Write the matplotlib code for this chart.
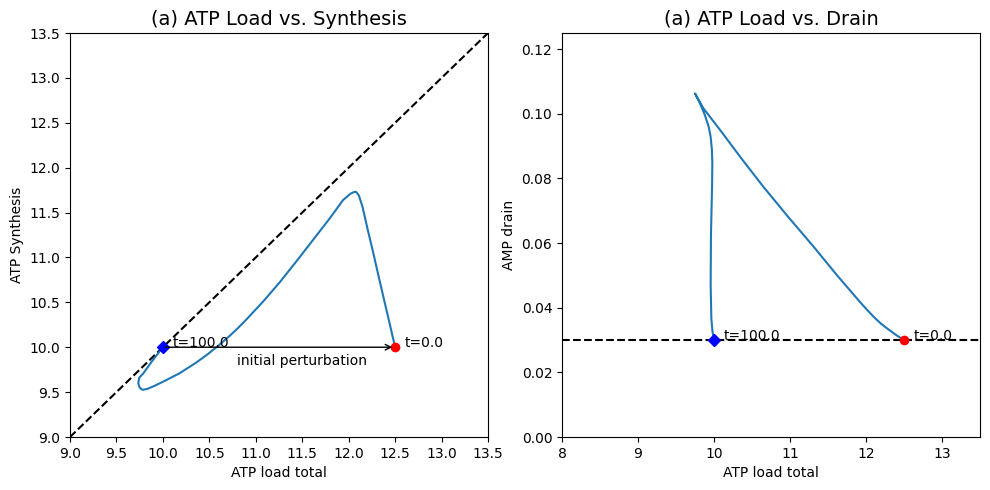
import matplotlib
matplotlib.use("Agg")
import matplotlib.pyplot as plt

# Trajectory: ATP load total vs ATP synthesis (left)
load_syn = [12.50, 12.433, 12.374, 12.32, 12.265, 12.205, 12.15, 12.11, 12.08, 12.06, 12.02, 11.94,
            11.80, 11.62, 11.44, 11.26, 11.08, 10.90, 10.81, 10.72, 10.60, 10.48, 10.36, 10.18, 10.00,
            9.90, 9.83, 9.78, 9.75, 9.735, 9.745, 9.79, 9.88, 9.94, 10.00]
synthesis = [10.00, 10.30, 10.56, 10.80, 11.05, 11.31, 11.56, 11.69, 11.73, 11.73, 11.71, 11.64,
             11.44, 11.20, 10.96, 10.726, 10.51, 10.31, 10.215, 10.128, 10.02, 9.92, 9.83, 9.71, 9.615,
             9.565, 9.535, 9.525, 9.55, 9.60, 9.66, 9.71, 9.84, 9.92, 10.00]

# Trajectory: ATP load total vs AMP drain (right)
load_drain = [12.50, 12.40, 12.30, 12.20, 12.10, 12.00, 11.92, 11.62, 11.31, 10.98, 10.65, 10.36,
              10.08, 9.86, 9.75, 9.82, 9.88, 9.93, 9.955, 9.972, 9.978, 9.975, 9.96, 9.956, 9.965,
              9.98, 10.00]
drain = [0.030, 0.0315, 0.0332, 0.0350, 0.0372, 0.0397, 0.0418, 0.0500, 0.0589, 0.0680, 0.0774, 0.0862,
         0.0950, 0.1017, 0.1063, 0.1030, 0.0996, 0.0960, 0.0930, 0.0890, 0.0850, 0.0780, 0.0625,
         0.0470, 0.0367, 0.0326, 0.030]

start_load, start_syn, start_drain = 12.5, 10.0, 0.03
end_load, end_syn, end_drain = 10.0, 10.0, 0.03

x_ticks_left = [9.0, 9.5, 10.0, 10.5, 11.0, 11.5, 12.0, 12.5, 13.0, 13.5]
y_ticks_left = [9.0, 9.5, 10.0, 10.5, 11.0, 11.5, 12.0, 12.5, 13.0, 13.5]
x_ticks_right = [8, 9, 10, 11, 12, 13]
y_ticks_right = [0.00, 0.02, 0.04, 0.06, 0.08, 0.10, 0.12]

W, H = 990, 490
fig = plt.figure(figsize=(W / 100, H / 100), dpi=100)
ax1 = fig.add_axes([70 / W, (H - 437) / H, 418 / W, 404 / H])
ax2 = fig.add_axes([562 / W, (H - 437) / H, 418 / W, 404 / H])

# Left panel
ax1.plot([9, 13.5], [9, 13.5], 'k--')
ax1.plot(load_syn, synthesis, color='#1f77b4')
ax1.plot(start_load, start_syn, 'o', color='red')
ax1.plot(end_load, end_syn, 'D', color='blue')
ax1.text(start_load + 0.1, start_syn, 't=0.0')
ax1.text(end_load + 0.1, end_syn, 't=100.0')
ax1.annotate('', xy=(start_load, start_syn), xytext=(end_load, end_syn),
             arrowprops=dict(arrowstyle='->', color='black'))
ax1.text(10.8, 9.8, 'initial perturbation')
ax1.set_xlim(9, 13.5)
ax1.set_ylim(9, 13.5)
ax1.set_xticks(x_ticks_left)
ax1.set_yticks(y_ticks_left)
ax1.set_xlabel('ATP load total')
ax1.set_ylabel('ATP Synthesis')
ax1.set_title('(a) ATP Load vs. Synthesis', fontsize=14)

# Right panel
ax2.axhline(0.03, color='k', linestyle='--')
ax2.plot(load_drain, drain, color='#1f77b4')
ax2.plot(start_load, start_drain, 'o', color='red')
ax2.plot(end_load, end_drain, 'D', color='blue')
ax2.text(start_load + 0.13, start_drain, 't=0.0')
ax2.text(end_load + 0.13, end_drain, 't=100.0')
ax2.set_xlim(8, 13.5)
ax2.set_ylim(0, 0.125)
ax2.set_xticks(x_ticks_right)
ax2.set_yticks(y_ticks_right)
ax2.set_xlabel('ATP load total')
ax2.set_ylabel('AMP drain')
ax2.set_title('(a) ATP Load vs. Drain', fontsize=14)

fig.savefig('out.png')
